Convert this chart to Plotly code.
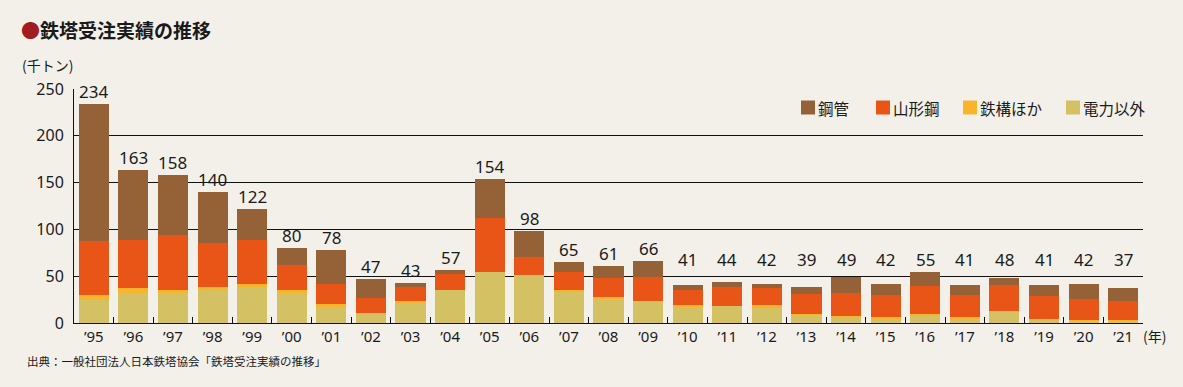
import plotly.graph_objects as go

# ---- data (thousand tons) ----
years = ["’95", "’96", "’97", "’98", "’99", "’00", "’01", "’02", "’03", "’04",
         "’05", "’06", "’07", "’08", "’09", "’10", "’11", "’12", "’13", "’14",
         "’15", "’16", "’17", "’18", "’19", "’20", "’21"]
denryoku_igai = [25, 32, 33, 35, 39, 32, 18, 10, 22, 35, 55, 51, 34, 26, 24,
                 18, 18, 17, 9, 5, 5, 8, 5, 12, 4, 3, 3]
tekko_hoka = [5, 5, 2, 3, 3, 3, 2, 1, 1, 0, 0, 0, 1, 2, 0,
              1, 0, 2, 1, 3, 1, 2, 1, 1, 0.5, 0.5, 0.5]
yamagata_ko = [58, 52, 59, 47, 47, 27, 22, 16, 15, 17, 57, 20, 19, 20, 25,
               16, 20, 18, 21, 24, 24, 30, 24, 28, 24, 22, 20]
kokan = [146, 74, 64, 55, 33, 18, 36, 20, 5, 5, 42, 27, 11, 13, 17,
         6, 6, 5, 8, 17, 12, 15, 11, 7, 12.5, 16.5, 13.5]
totals = [234, 163, 158, 140, 122, 80, 78, 47, 43, 57, 154, 98, 65, 61, 66,
          41, 44, 42, 39, 49, 42, 55, 41, 48, 41, 42, 37]
series_names = ["電力以外", "鉄構ほか", "山形鋼", "鋼管"]
y_ticks = [0, 50, 100, 150, 200, 250]

# ---- style ----
colors = ["#d4c163", "#f8b42b", "#e85517", "#956137"]
BG = "#f3f0ea"
TXT = "#1a1a1a"
LAT = "Noto Sans, Noto Sans CJK JP, sans-serif"
CJK = "Noto Sans CJK JP, sans-serif"

W, H = 1183, 387
L, R, T, B = 74, 40, 89, 64
PW, PH = W - L - R, H - T - B


def px(x):
    return (x - L) / PW


def py(y):
    return (H - B - y) / PH


fig = go.Figure()
for name, vals, col in zip(series_names,
                           [denryoku_igai, tekko_hoka, yamagata_ko, kokan],
                           colors):
    fig.add_trace(go.Bar(x=years, y=vals, name=name, marker_color=col,
                         marker_line_width=0, showlegend=False))

annotations = []
# total labels: from 2010 on they share one level
late_level = max(totals[15:])
for i, (yr, tot) in enumerate(zip(years, totals)):
    lvl = tot if i < 15 else late_level
    annotations.append(dict(x=yr, y=lvl, xref="x", yref="y", text=str(tot),
                            showarrow=False, yanchor="bottom",
                            font=dict(family=LAT, size=17, color=TXT),
                            bgcolor=BG if i == 0 else None, borderpad=0))

# title
annotations.append(dict(x=px(19), y=py(29), xref="paper", yref="paper",
                        xanchor="left", yanchor="middle", showarrow=False,
                        text="<span style='color:#a31b22'>●</span><b>鉄塔受注実績の推移</b>",
                        font=dict(family=CJK, size=19, color=TXT)))
annotations.append(dict(x=px(20), y=py(65), xref="paper", yref="paper",
                        xanchor="left", yanchor="middle", showarrow=False,
                        text="(千トン)", font=dict(family=CJK, size=14, color=TXT)))
annotations.append(dict(x=px(1141), y=py(336), xref="paper", yref="paper",
                        xanchor="left", yanchor="middle", showarrow=False,
                        text="(年)", font=dict(family=CJK, size=14, color=TXT)))
annotations.append(dict(x=px(25), y=py(361), xref="paper", yref="paper",
                        xanchor="left", yanchor="middle", showarrow=False,
                        text="出典：一般社団法人日本鉄塔協会「鉄塔受注実績の推移」",
                        font=dict(family=CJK, size=11.5, color=TXT)))

# legend (custom, in legend order)
shapes = []
leg_x = [801, 876, 963, 1066]
leg_y = 107.5
for lx, name, col in zip(leg_x, series_names[::-1], colors[::-1]):
    shapes.append(dict(type="rect", xref="paper", yref="paper",
                       x0=px(lx), x1=px(lx + 14), y0=py(leg_y + 7), y1=py(leg_y - 7),
                       fillcolor=col, line_width=0))
    annotations.append(dict(x=px(lx + 15), y=py(leg_y), xref="paper", yref="paper",
                            xanchor="left", yanchor="middle", showarrow=False,
                            text=name, font=dict(family=CJK, size=15.5, color=TXT)))

fig.update_layout(
    width=W, height=H,
    margin=dict(l=L, r=R, t=T, b=B),
    paper_bgcolor=BG, plot_bgcolor=BG,
    barmode="stack", bargap=0.24,
    annotations=annotations, shapes=shapes,
    font=dict(family=LAT, color=TXT),
    xaxis=dict(type="category", showline=True, linecolor="#111", linewidth=1,
               ticks="inside", tickson="boundaries", ticklen=6, tickcolor="#111",
               tickwidth=1, showgrid=False, range=[-0.5, len(years) - 0.5],
               tickfont=dict(family=LAT, size=15, color=TXT)),
    yaxis=dict(range=[0, 250], tickvals=y_ticks, showline=True, linecolor="#111",
               linewidth=1, ticks="", showgrid=True, gridcolor="#111", gridwidth=1,
               zeroline=False, tickfont=dict(family=LAT, size=16, color=TXT),
               ticklabelstandoff=6),
)

fig.write_html(
    "out.html",
    config={"displayModeBar": False},
    post_script="document.body.style.margin='0';document.body.style.background='%s';" % BG,
)
